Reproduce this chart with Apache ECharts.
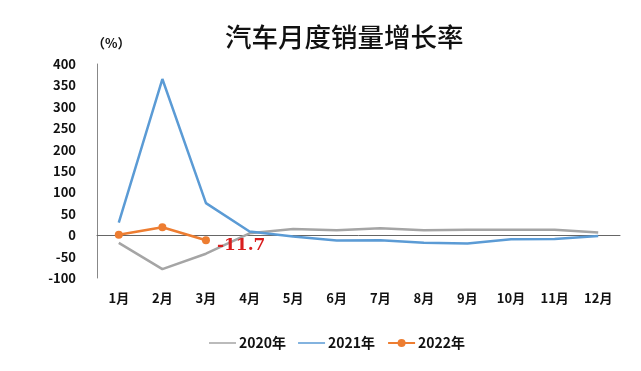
<!DOCTYPE html>
<html><head><meta charset="utf-8">
<script src="https://cdn.jsdelivr.net/npm/echarts@6/dist/echarts.min.js"></script>
<style>html,body{margin:0;padding:0;background:#fff}#c{width:641px;height:371px}</style>
</head><body><div id="c"></div>
<script>
const categories = ['1月','2月','3月','4月','5月','6月','7月','8月','9月','10月','11月','12月'];
const s2020 = [-18, -79.1, -43.3, 4.4, 14.5, 11.6, 16.4, 11.6, 12.8, 12.5, 12.6, 6.4];
const s2021 = [29.5, 364.9, 74.9, 8.6, -3.1, -12.4, -11.9, -17.8, -19.6, -9.4, -9.1, -1.6];
const s2022 = [0.9, 18.7, -11.7];
const yTicks = [-100, 400, 50];
const seriesNames = ['2020年','2021年','2022年'];

const lineIcon = 'path://M0,0L0.01,0M0,4.2L30,4.2L30,5.8L0,5.8ZM0,10L0.01,10';
const chart = echarts.init(document.getElementById('c'), null, {renderer:'canvas'});
const bold = {fontFamily:'"Noto Sans CJK SC", sans-serif', fontWeight:'bold', color:'#111'};
chart.setOption({
  animation:false,
  title:{text:'汽车月度销量增长率', left:220, top:19,
    textStyle:{fontFamily:'"Noto Sans CJK SC", sans-serif', fontWeight:500, fontSize:26.5, color:'#111'}},
  grid:{left:97, right:21, top:64, bottom:93},
  legend:{bottom:16, left:204, itemWidth:27, itemHeight:10, itemGap:12,
    textStyle:Object.assign({fontSize:14, padding:[0,0,0,-2]}, bold),
    data:[{name:seriesNames[0], icon:lineIcon},{name:seriesNames[1], icon:lineIcon},{name:seriesNames[2]}]},
  xAxis:{type:'category', data:categories, boundaryGap:true,
    axisLine:{onZero:true, lineStyle:{color:'#666', width:1}},
    axisTick:{show:false},
    axisLabel:Object.assign({fontSize:13, margin:14}, bold)},
  yAxis:{type:'value', min:yTicks[0], max:yTicks[1], interval:yTicks[2],
    name:'（%）', nameLocation:'end', nameGap:14,
    nameTextStyle:Object.assign({fontSize:13, align:'left', padding:[0,0,0,-5]}, bold),
    splitLine:{show:false},
    axisLine:{show:true, lineStyle:{color:'#888', width:1}},
    axisTick:{show:false},
    axisLabel:Object.assign({fontSize:13, margin:21}, bold)},
  series:[
    {name:seriesNames[0], type:'line', data:s2020, symbol:'none', lineStyle:{color:'#A5A5A5', width:2.5}, itemStyle:{color:'#A5A5A5'}},
    {name:seriesNames[1], type:'line', data:s2021, symbol:'none', lineStyle:{color:'#5B9BD5', width:2.5}, itemStyle:{color:'#5B9BD5'}},
    {name:seriesNames[2], type:'line', data:s2022, symbol:'circle', symbolSize:8,
      lineStyle:{color:'#ED7D31', width:2.5}, itemStyle:{color:'#ED7D31'},
      label:{show:true, position:'right', distance:7,
        formatter:p => p.dataIndex === s2022.length-1 ? String(p.value) : '',
        color:'#D91E1E', fontSize:17, fontWeight:'bold', fontFamily:'"DejaVu Serif", serif', offset:[0,5]}}
  ]
});
</script></body></html>
